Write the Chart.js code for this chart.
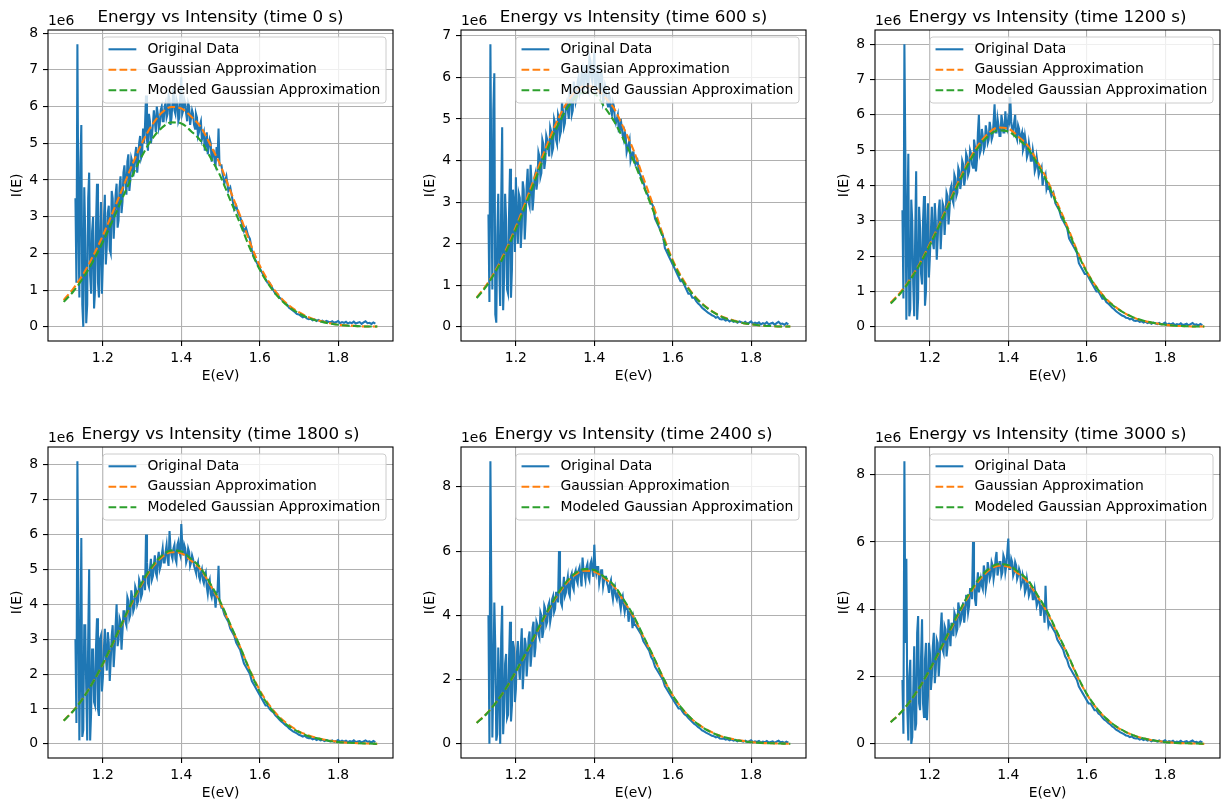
<!DOCTYPE html>
<html>
<head>
<meta charset="utf-8">
<script src="https://cdn.jsdelivr.net/npm/chart.js@4.4.1/dist/chart.umd.min.js"></script>
<style>
    html, body { margin: 0; padding: 0; background: #fff; }
    #figure { position: relative; width: 1221px; height: 804px; overflow: hidden; background: #fff; }
    .panel { position: absolute; }
</style>
</head>
<body>
<div id="figure"></div>
<script>
// 패널별 측정 시간 (s)
const panelTimes = [0, 600, 1200, 1800, 2400, 3000];

// x축 눈금, y축 눈금
const xTicks = [1.2, 1.4, 1.6, 1.8];
const yTicksBy1 = [0, 1, 2, 3, 4, 5, 6, 7, 8];
const yTicksBy1To7 = [0, 1, 2, 3, 4, 5, 6, 7];
const yTicksBy2 = [0, 2, 4, 6, 8];

// y축 범위 (단위 1e6)
const yAxisMin = [-0.385, -0.34, -0.40, -0.405, -0.44, -0.42];
const yAxisMax = [8.085, 7.14, 8.40, 8.505, 9.24, 8.82];

// 원본 데이터: 1.130 eV부터 0.005 eV 간격, 단위 1e5
const ORIG_E_START = 1.13;
const ORIG_E_STEP = 0.005;
// 잡음이 큰 구간의 중간 샘플: 1.1325 eV부터 0.005 eV 간격, 단위 1e5
const MID_E_START = 1.1325;

const original0 = [
    35, 77, 8, 55, 0,   25, 6, 42, 9, 30,   10, 39, 8, 34, 18,   36, 22, 33, 20, 35,
    30, 39, 29, 41, 34,   44, 36, 47, 40, 45,   43, 49, 45, 52, 47,   50, 63, 48, 56, 52,
    59, 53, 58, 55, 60,   56, 61, 58, 62, 57,   65, 58, 61, 57, 68,   59, 61, 56, 60, 57,
    58, 54, 57, 53, 56,   52, 48, 53, 49, 50,   48, 45, 49, 54, 44,   42, 39, 41, 37, 38,
    35, 32, 33, 31, 30,   28, 26, 27, 25, 24,   21, 19, 18, 17, 16,   15, 14, 13, 12, 12,
    11, 10, 9, 9, 8,   7.6, 7, 6.4, 6, 5.2,   4.8, 4.4, 4, 3.5, 3.4,   3, 2.6, 2.8, 2.3, 2.1,
    2.2, 1.8, 2.0, 1.6, 1.9,   1.5, 1.7, 1.3, 1.6, 1.4,   1.2, 1.5, 1.1, 1.3, 1.6,
    1.0, 1.3, 1.1, 1.4, 0.9,   1.2, 1.0, 1.4, 0.9, 1.1,   1.3, 0.8, 1.2, 1.5, 1.0,   1.1, 0.8, 1.2, 0.9
];
const originalMid0 = [
    12, 30, 44, 6, 38,   1, 35, 14, 26, 5,   28, 12, 25, 9, 29,   17, 31, 21, 37, 24,
    36, 27, 38, 31, 42,   39, 45, 37, 46, 41,   47, 42, 50, 46, 54,   55, 51, 58, 50, 55,
    56, 60, 54, 59, 56,   60, 57, 63, 55, 61,   59, 62, 56, 63, 58,   62, 58, 61, 55, 59,
    55, 58, 52, 55, 51,   53, 50, 47, 51, 45,   48, 44, 46, 44, 44
];
const original600 = [
    27, 68, 9, 61, 1,   32, 5, 48, 12, 26,   8, 38, 14, 30, 36,   20, 31, 24, 33, 26,
    38, 29, 35, 31, 37,   35, 41, 37, 44, 40,   45, 41, 47, 43, 49,   44, 50, 47, 52, 49,
    54, 50, 56, 52, 57,   55, 60, 57, 62, 58,   61, 57, 64, 59, 66,   58, 63, 56, 60, 55,
    57, 53, 55, 51, 53,   49, 51, 47, 48, 45,   46, 43, 45, 41, 42,   39, 40, 37, 36, 35,
    33, 32, 31, 30, 29,   26, 25, 24, 23, 22,   19, 18, 17, 16, 15,   14, 13, 12, 11, 11,
    10, 9, 8, 8, 7,   7, 6.2, 5.6, 5.2, 4.6,   4.2, 3.8, 3.4, 3.1, 2.8,   2.6, 2.2, 2.4, 1.9, 1.8,
    1.9, 1.5, 1.7, 1.3, 1.6,   1.2, 1.4, 1.0, 1.3, 1.1,   0.9, 1.2, 0.8, 1.0, 1.3,
    0.7, 1.0, 0.8, 1.1, 0.6,   0.9, 0.7, 1.1, 0.6, 0.8,   1.0, 0.5, 0.9, 1.2, 0.7,   0.8, 0.5, 0.9, 0.6
];
const originalMid600 = [
    6, 35, 52, 3, 22,   14, 30, 4, 32, 9,   27, 7, 33, 18, 25,   32, 19, 35, 21, 34,
    30, 39, 28, 36, 33,   42, 36, 45, 38, 46,   43, 48, 42, 50, 45,   51, 46, 54, 48, 53,
    52, 58, 51, 59, 54,   59, 56, 61, 57, 63,   58, 65, 60, 62, 57,   61, 57, 62, 54, 58,
    54, 56, 52, 54, 50,   50, 47, 50, 46, 47,   42, 44, 40, 42, 40
];
const original1200 = [
    33, 80, 2, 49, 5,   30, 3, 44, 8, 28,   12, 37, 10, 35, 20,   34, 22, 30, 25, 36,
    28, 34, 31, 37, 33,   40, 35, 42, 38, 44,   41, 46, 42, 48, 44,   49, 45, 51, 47, 60,
    50, 54, 51, 55, 53,   56, 54, 63, 55, 57,   54, 58, 55, 57, 59,   65, 56, 58, 54, 57,
    53, 55, 51, 52, 49,   50, 47, 48, 45, 46,   44, 45, 42, 43, 40,   39, 37, 38, 35, 34,
    33, 31, 30, 29, 28,   25, 24, 23, 22, 21,   18, 17, 16, 15, 15,   14, 13, 12, 11, 10,
    10, 9, 8, 8, 7,   6.6, 6, 5.4, 5, 4.4,   4, 3.6, 3.2, 3, 2.6,   2.5, 2.1, 2.3, 1.8, 1.7,
    1.8, 1.4, 1.6, 1.2, 1.5,   1.1, 1.3, 0.9, 1.2, 1.0,   0.8, 1.1, 0.7, 0.9, 1.2,
    0.6, 0.9, 0.7, 1.0, 0.5,   0.8, 0.6, 1.0, 0.5, 0.7,   0.9, 0.4, 0.8, 1.1, 0.6,   0.7, 0.4, 0.8, 0.5
];
const originalMid1200 = [
    8, 48, 30, 3, 36,   12, 26, 2, 34, 15,   30, 6, 28, 14, 27,   24, 35, 19, 33, 22,
    35, 26, 38, 29, 39,   36, 43, 37, 45, 39,   47, 40, 49, 43, 50,   46, 53, 44, 55, 49,
    56, 50, 57, 52, 58,   53, 58, 55, 59, 54,   60, 55, 61, 56, 58,   58, 55, 60, 53, 56,
    54, 50, 54, 48, 52,   47, 50, 44, 48, 43,   44, 40, 42, 39, 39
];
const original1800 = [
    30, 81, 1, 59, 4,   34, 1, 50, 9, 27,   11, 36, 8, 31, 19,   33, 21, 29, 24, 34,
    27, 40, 30, 35, 32,   38, 34, 41, 37, 42,   39, 44, 41, 46, 43,   48, 60, 46, 50, 47,
    51, 49, 53, 50, 54,   52, 55, 53, 61, 54,   56, 53, 57, 55, 63,   54, 56, 53, 55, 52,
    53, 50, 51, 48, 49,   47, 48, 45, 46, 43,   44, 42, 43, 51, 40,   39, 37, 36, 35, 33,
    32, 31, 29, 28, 27,   25, 23, 22, 21, 20,   18, 17, 16, 15, 14,   13, 12, 11, 11, 10,
    9.4, 9, 8.2, 7.6, 7,   6.4, 6, 5.4, 5, 4.4,   4, 3.6, 3.3, 3, 2.6,   2.4, 2.1, 2.3, 1.8, 1.6,
    1.7, 1.3, 1.5, 1.1, 1.4,   1.0, 1.2, 0.8, 1.1, 0.9,   0.7, 1.0, 0.6, 0.8, 1.1,
    0.6, 0.9, 0.6, 0.9, 0.5,   0.8, 0.6, 1.0, 0.5, 0.7,   0.8, 0.4, 0.7, 1.0, 0.6,   0.7, 0.4, 0.8, 0.5
];
const originalMid1800 = [
    6, 43, 25, 2, 34,   16, 30, 1, 27, 12,   28, 10, 30, 15, 27,   25, 32, 18, 31, 22,
    34, 28, 36, 27, 38,   35, 42, 36, 44, 38,   45, 40, 47, 42, 48,   44, 52, 45, 53, 48,
    54, 48, 55, 51, 56,   52, 57, 51, 56, 53,   57, 52, 58, 54, 57,   57, 52, 56, 51, 54,
    51, 49, 52, 47, 50,   46, 49, 43, 47, 42,   43, 39, 44, 41, 39
];
const original2400 = [
    40, 88, 2, 44, 1,   30, 0, 43, 10, 28,   9, 38, 12, 30, 17,   32, 20, 36, 23, 31,
    26, 35, 28, 38, 30,   37, 33, 40, 35, 42,   38, 44, 40, 46, 42,   47, 60, 44, 48, 46,
    50, 47, 52, 49, 53,   51, 54, 52, 58, 53,   55, 52, 56, 54, 62,   53, 55, 52, 54, 51,
    52, 49, 50, 47, 48,   46, 47, 44, 45, 43,   43, 42, 41, 40, 39,   37, 36, 35, 34, 32,
    31, 30, 29, 27, 26,   24, 23, 22, 21, 20,   18, 17, 16, 15, 14,   13, 12, 11, 11, 10,
    9.2, 8.8, 8, 7.4, 6.8,   6.2, 5.8, 5.2, 4.8, 4.2,   3.9, 3.5, 3.2, 2.9, 2.5,   2.4, 2.0, 2.2, 1.7, 1.6,
    1.7, 1.3, 1.5, 1.1, 1.4,   1.0, 1.2, 0.8, 1.1, 0.9,   0.7, 1.0, 0.6, 0.8, 1.1,
    0.5, 0.8, 0.6, 0.9, 0.4,   0.7, 0.5, 0.9, 0.4, 0.6,   0.8, 0.3, 0.7, 1.0, 0.5,   0.6, 0.3, 0.7, 0.4
];
const originalMid2400 = [
    0, 45, 20, 30, 3,   18, 33, 3, 25, 8,   26, 7, 32, 13, 28,   24, 30, 17, 33, 21,
    33, 24, 36, 27, 38,   34, 41, 33, 43, 37,   43, 38, 45, 41, 47,   44, 51, 43, 52, 47,
    52, 46, 53, 48, 54,   50, 55, 49, 54, 51,   56, 51, 57, 52, 55,   55, 50, 54, 49, 52,
    50, 47, 51, 45, 49,   45, 47, 42, 46, 41,   42, 38, 41, 36, 37
];
const original3000 = [
    19, 84, 55, 1, 25,   2, 29, 6, 38, 10,   37, 8, 30, 14, 27,   20, 33, 22, 30, 25,
    39, 27, 34, 29, 33,   36, 32, 38, 34, 40,   37, 42, 39, 44, 41,   46, 60, 43, 47, 45,
    49, 46, 51, 48, 52,   50, 53, 51, 57, 52,   54, 51, 55, 53, 61,   52, 54, 51, 53, 50,
    51, 48, 49, 46, 47,   45, 46, 43, 44, 42,   42, 41, 40, 47, 38,   36, 35, 34, 33, 31,
    30, 29, 28, 26, 25,   23, 22, 21, 20, 19,   17, 16, 15, 14, 13,   12, 12, 11, 10, 10,
    9, 8.6, 7.8, 7.2, 6.8,   6.2, 5.8, 5.2, 4.8, 4.2,   3.9, 3.5, 3.2, 2.9, 2.5,   2.4, 2.0, 2.2, 1.7, 1.6,
    1.7, 1.3, 1.5, 1.1, 1.4,   1.0, 1.2, 0.8, 1.1, 0.9,   0.7, 1.0, 0.6, 0.8, 1.1,
    0.5, 0.8, 0.6, 0.9, 0.4,   0.7, 0.5, 0.9, 0.4, 0.6,   0.8, 0.3, 0.7, 1.0, 0.5,   0.6, 0.3, 0.7, 0.4
];
const originalMid3000 = [
    3, 30, 10, 20, 0,   15, 4, 33, 12, 26,   12, 25, 7, 30, 16,   29, 18, 31, 20, 34,
    28, 35, 26, 37, 29,   34, 39, 33, 42, 36,   40, 36, 44, 39, 46,   43, 50, 41, 51, 47,
    47, 53, 46, 54, 49,   54, 49, 55, 50, 54,   50, 56, 51, 57, 52,   55, 50, 54, 49, 52,
    47, 50, 45, 49, 44,   47, 43, 46, 41, 43,   38, 41, 36, 39, 35
];

// 가우시안 곡선 에너지 (eV)
const gaussEnergies = [
    1.100, 1.125, 1.150, 1.175, 1.200, 1.225, 1.250, 1.275, 1.300, 1.325, 1.350,
    1.375, 1.400, 1.425, 1.450, 1.475, 1.500, 1.525, 1.550, 1.575, 1.600, 1.625,
    1.650, 1.675, 1.700, 1.725, 1.750, 1.775, 1.800, 1.825, 1.850, 1.875, 1.900
];

// 가우시안 근사 / 모델 가우시안 근사 (단위 1e6)
const gaussFit0 = [.73, 1.05, 1.44, 1.93, 2.49, 3.12, 3.77, 4.42, 5.01, 5.49, 5.83, 5.99, 5.95, 5.73, 5.44, 4.94, 4.40, 3.71, 3.03, 2.30, 1.67, 1.20, .84, .58, .40, .26, .17, .11, .06, .04, .02, .01, .01];
const modeledFit0 = [.68, .97, 1.34, 1.79, 2.32, 2.90, 3.51, 4.11, 4.66, 5.11, 5.42, 5.57, 5.54, 5.33, 5.06, 4.60, 4.10, 3.45, 2.81, 2.14, 1.56, 1.12, .78, .54, .37, .24, .16, .10, .06, .03, .02, .01, .01];
const gaussFit600 = [.71, 1.01, 1.39, 1.86, 2.41, 3.01, 3.65, 4.27, 4.84, 5.31, 5.64, 5.79, 5.76, 5.54, 5.26, 4.78, 4.25, 3.59, 2.93, 2.22, 1.61, 1.16, .81, .56, .38, .25, .17, .10, .06, .03, .02, .01, .01];
const modeledFit600 = [.69, .98, 1.36, 1.81, 2.35, 2.93, 3.55, 4.16, 4.71, 5.17, 5.49, 5.64, 5.61, 5.30, 4.95, 4.50, 4.00, 3.40, 2.80, 2.15, 1.57, 1.12, .79, .55, .37, .24, .16, .10, .06, .03, .02, .01, .01];
const gaussFit1200 = [.69, .98, 1.36, 1.81, 2.35, 2.93, 3.55, 4.16, 4.71, 5.17, 5.49, 5.64, 5.61, 5.39, 5.12, 4.66, 4.14, 3.50, 2.86, 2.17, 1.57, 1.13, .79, .55, .37, .24, .16, .10, .06, .03, .02, .01, .01];
const modeledFit1200 = [.66, .95, 1.33, 1.78, 2.31, 2.89, 3.50, 4.10, 4.65, 5.10, 5.41, 5.56, 5.53, 5.32, 5.05, 4.59, 4.08, 3.44, 2.81, 2.13, 1.55, 1.11, .77, .54, .37, .24, .16, .10, .06, .03, .02, .01, .01];
const gaussFit1800 = [.67, .96, 1.32, 1.77, 2.28, 2.86, 3.46, 4.05, 4.59, 5.04, 5.34, 5.49, 5.46, 5.25, 4.99, 4.53, 4.03, 3.40, 2.78, 2.11, 1.54, 1.10, .77, .54, .36, .24, .16, .10, .06, .03, .02, .01, .00];
const modeledFit1800 = [.66, .95, 1.32, 1.77, 2.30, 2.88, 3.49, 4.09, 4.63, 5.08, 5.39, 5.54, 5.51, 5.30, 5.03, 4.57, 4.06, 3.42, 2.78, 2.09, 1.50, 1.06, .74, .50, .34, .22, .15, .09, .05, .03, .02, .01, .00];
const gaussFit2400 = [.66, .94, 1.30, 1.73, 2.24, 2.80, 3.39, 3.98, 4.51, 4.94, 5.25, 5.39, 5.36, 5.16, 4.90, 4.45, 3.96, 3.34, 2.73, 2.07, 1.51, 1.08, .76, .53, .36, .23, .16, .10, .06, .03, .02, .01, .00];
const modeledFit2400 = [.65, .93, 1.30, 1.74, 2.26, 2.83, 3.43, 4.02, 4.55, 4.99, 5.30, 5.44, 5.41, 5.20, 4.94, 4.49, 3.99, 3.36, 2.74, 2.08, 1.51, 1.08, .76, .52, .35, .23, .15, .09, .05, .03, .02, .01, .00];
const gaussFit3000 = [.65, .92, 1.27, 1.70, 2.20, 2.75, 3.33, 3.90, 4.42, 4.85, 5.15, 5.29, 5.26, 5.06, 4.80, 4.37, 3.89, 3.28, 2.68, 2.03, 1.48, 1.06, .75, .51, .35, .23, .15, .09, .06, .03, .02, .01, .00];
const modeledFit3000 = [.64, .92, 1.28, 1.71, 2.22, 2.78, 3.37, 3.94, 4.47, 4.90, 5.20, 5.34, 5.31, 5.11, 4.86, 4.41, 3.92, 3.31, 2.70, 2.05, 1.49, 1.07, .75, .52, .35, .23, .15, .09, .05, .03, .02, .01, .00];

const originalSets = [original0, original600, original1200, original1800, original2400, original3000];
const originalMidSets = [originalMid0, originalMid600, originalMid1200, originalMid1800, originalMid2400, originalMid3000];
const gaussSets = [gaussFit0, gaussFit600, gaussFit1200, gaussFit1800, gaussFit2400, gaussFit3000];
const modeledSets = [modeledFit0, modeledFit600, modeledFit1200, modeledFit1800, modeledFit2400, modeledFit3000];
const yTickSets = [yTicksBy1, yTicksBy1To7, yTicksBy1, yTicksBy1, yTicksBy2, yTicksBy2];

// 레이아웃 (px)
const PANEL_LEFT = [48, 461, 875];
const PANEL_TOP = [30, 447];
const PLOT_W = 345;
const PLOT_H = 311;
const PAD_LEFT = 48;
const PAD_TOP = 30;
const PAD_RIGHT = 12;
const PAD_BOTTOM = 50;

const FONT = '"DejaVu Sans", sans-serif';
const BASE_SIZE = 13.9;
const TITLE_SIZE = 16.7;
const LINE_W = 2.08;
const DASH = [7.7, 3.3];

Chart.defaults.font.family = FONT;
Chart.defaults.color = '#000';

/**
 * 프레임, 범례, 제목, 1e6 표기
 */
const decorPlugin = {
    id: 'decor',
    afterDatasetsDraw(chart) {
        const { ctx, chartArea } = chart;
        const time = chart.options.plugins.decor.time;

        // 축 테두리
        ctx.save();
        ctx.strokeStyle = '#000';
        ctx.lineWidth = 1.1;
        ctx.strokeRect(chartArea.left, chartArea.top, chartArea.right - chartArea.left, chartArea.bottom - chartArea.top);

        // 범례
        ctx.font = `${BASE_SIZE}px ${FONT}`;
        const datasets = chart.data.datasets;
        const textW = Math.max(...datasets.map(d => ctx.measureText(d.label).width));
        const pad = 5.6, handleLen = 27.8, handleGap = 11.1, rowH = 20.5;
        const w = pad + handleLen + handleGap + textW + pad;
        const h = 66;
        const x = chartArea.right - 7 - w;
        const y = chartArea.top + 7;
        ctx.beginPath();
        ctx.roundRect(x, y, w, h, 3);
        ctx.fillStyle = 'rgba(255,255,255,0.8)';
        ctx.fill();
        ctx.strokeStyle = '#cccccc';
        ctx.lineWidth = 1;
        ctx.stroke();

        datasets.forEach((ds, k) => {
            const cy = y + 12.3 + k * rowH;
            ctx.beginPath();
            ctx.setLineDash(ds.borderDash || []);
            ctx.strokeStyle = ds.borderColor;
            ctx.lineWidth = ds.borderWidth;
            ctx.moveTo(x + pad, cy);
            ctx.lineTo(x + pad + handleLen, cy);
            ctx.stroke();
            ctx.setLineDash([]);
            ctx.fillStyle = '#000';
            ctx.textAlign = 'left';
            ctx.textBaseline = 'middle';
            ctx.fillText(ds.label, x + pad + handleLen + handleGap, cy);
        });

        // 제목
        ctx.font = `${TITLE_SIZE}px ${FONT}`;
        ctx.textAlign = 'center';
        ctx.textBaseline = 'alphabetic';
        ctx.fillText(`Energy vs Intensity (time ${time} s)`, (chartArea.left + chartArea.right) / 2, chartArea.top - 8);

        // 오프셋 표기
        ctx.font = `${BASE_SIZE}px ${FONT}`;
        ctx.textAlign = 'left';
        ctx.fillText('1e6', chartArea.left, chartArea.top - 5);
        ctx.restore();
    }
};

const figure = document.getElementById('figure');

panelTimes.forEach((time, i) => {
    const col = i % 3;
    const row = Math.floor(i / 3);

    const holder = document.createElement('div');
    holder.className = 'panel';
    holder.style.left = `${PANEL_LEFT[col] - PAD_LEFT}px`;
    holder.style.top = `${PANEL_TOP[row] - PAD_TOP}px`;
    const canvas = document.createElement('canvas');
    canvas.width = PAD_LEFT + PLOT_W + PAD_RIGHT;
    canvas.height = PAD_TOP + PLOT_H + PAD_BOTTOM;
    holder.appendChild(canvas);
    figure.appendChild(holder);

    // 기본 샘플과 중간 샘플을 에너지 순으로 합침
    const original = [
        ...originalSets[i].map((v, k) => ({ x: ORIG_E_START + k * ORIG_E_STEP, y: v * 1e5 })),
        ...originalMidSets[i].map((v, k) => ({ x: MID_E_START + k * ORIG_E_STEP, y: v * 1e5 }))
    ].sort((a, b) => a.x - b.x);
    const gauss = gaussEnergies.map((e, k) => ({ x: e, y: gaussSets[i][k] * 1e6 }));
    const modeled = gaussEnergies.map((e, k) => ({ x: e, y: modeledSets[i][k] * 1e6 }));
    const yTicks = yTickSets[i];

    new Chart(canvas, {
        type: 'line',
        data: {
            datasets: [
                {
                    label: 'Original Data',
                    data: original,
                    borderColor: '#1f77b4',
                    borderWidth: LINE_W,
                    pointRadius: 0,
                    tension: 0,
                    order: 3
                },
                {
                    label: 'Gaussian Approximation',
                    data: gauss,
                    borderColor: '#ff7f0e',
                    borderWidth: LINE_W,
                    borderDash: DASH,
                    pointRadius: 0,
                    cubicInterpolationMode: 'monotone',
                    order: 2
                },
                {
                    label: 'Modeled Gaussian Approximation',
                    data: modeled,
                    borderColor: '#2ca02c',
                    borderWidth: LINE_W,
                    borderDash: DASH,
                    pointRadius: 0,
                    cubicInterpolationMode: 'monotone',
                    order: 1
                }
            ]
        },
        options: {
            responsive: false,
            animation: false,
            events: [],
            layout: { padding: { top: PAD_TOP, right: PAD_RIGHT, left: 0, bottom: 0 } },
            plugins: {
                legend: { display: false },
                tooltip: { enabled: false },
                decor: { time }
            },
            scales: {
                x: {
                    type: 'linear',
                    min: 1.06,
                    max: 1.94,
                    afterBuildTicks: scale => { scale.ticks = xTicks.map(v => ({ value: v })); },
                    afterFit: scale => { scale.height = PAD_BOTTOM; },
                    grid: { color: '#b0b0b0', lineWidth: 1.1, tickColor: '#000', tickWidth: 1.1, tickLength: 5 },
                    border: { display: false },
                    ticks: {
                        color: '#000',
                        font: { size: BASE_SIZE },
                        padding: 4,
                        maxRotation: 0,
                        callback: v => v.toFixed(1)
                    },
                    title: {
                        display: true,
                        text: 'E(eV)',
                        color: '#000',
                        font: { size: BASE_SIZE },
                        padding: { top: 0, bottom: 6 }
                    }
                },
                y: {
                    type: 'linear',
                    min: yAxisMin[i] * 1e6,
                    max: yAxisMax[i] * 1e6,
                    afterBuildTicks: scale => { scale.ticks = yTicks.map(v => ({ value: v * 1e6 })); },
                    afterFit: scale => { scale.width = PAD_LEFT; },
                    grid: { color: '#b0b0b0', lineWidth: 1.1, tickColor: '#000', tickWidth: 1.1, tickLength: 5 },
                    border: { display: false },
                    ticks: {
                        color: '#000',
                        font: { size: BASE_SIZE },
                        padding: 5,
                        callback: v => String(Math.round(v / 1e6))
                    },
                    title: {
                        display: true,
                        text: 'I(E)',
                        color: '#000',
                        font: { size: BASE_SIZE },
                        padding: { top: 8.7, bottom: 0 }
                    }
                }
            }
        },
        plugins: [decorPlugin]
    });
});
</script>
</body>
</html>
